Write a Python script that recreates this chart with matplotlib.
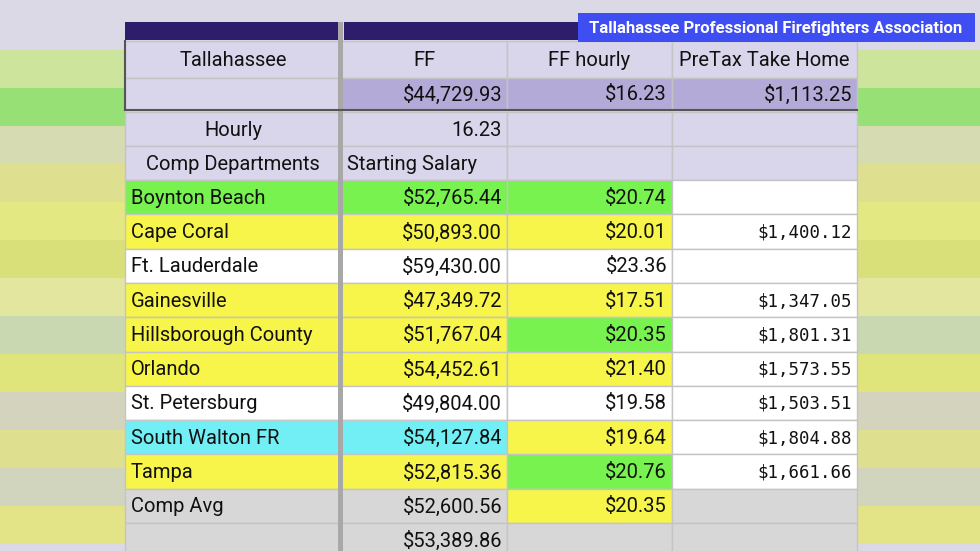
import matplotlib.pyplot as plt
from matplotlib.patches import Rectangle

# table content
departments = ['Boynton Beach', 'Cape Coral', 'Ft. Lauderdale', 'Gainesville', 'Hillsborough County',
               'Orlando', 'St. Petersburg', 'South Walton FR', 'Tampa', 'Comp Avg', '']
salaries = ['$52,765.44', '$50,893.00', '$59,430.00', '$47,349.72', '$51,767.04',
            '$54,452.61', '$49,804.00', '$54,127.84', '$52,815.36', '$52,600.56', '$53,389.86']
hourly = ['$20.74', '$20.01', '$23.36', '$17.51', '$20.35',
          '$21.40', '$19.58', '$19.64', '$20.76', '$20.35', '']
pretax = ['', '$1,400.12', '', '$1,347.05', '$1,801.31',
          '$1,573.55', '$1,503.51', '$1,804.88', '$1,661.66', '', '']

G, Y, C, W, GR = '#77f24f', '#f7f54a', '#72eff4', '#ffffff', '#d7d7d7'
LAV, MED, DARK = '#d9d5ea', '#b4aad8', '#2e1d6a'
row_colors = [
    [G, G, G, W], [Y, Y, Y, W], [W, W, W, W], [Y, Y, Y, W], [Y, Y, G, W],
    [Y, Y, Y, W], [W, W, W, W], [C, C, Y, W], [Y, Y, G, W], [GR, GR, Y, GR], [GR, GR, GR, GR],
]

fig = plt.figure(figsize=(9.8, 5.51), dpi=100)
ax = fig.add_axes([0, 0, 1, 1])
ax.set_xlim(0, 980)
ax.set_ylim(551, 0)
ax.axis('off')
fig.patch.set_facecolor('#dcd9e6')

# blurred background bands on both sides
bands = ['#c9e88a', '#86e25a', '#d5dca6', '#dfe27a', '#e6ec6a', '#d9e35e', '#e6ea8c',
         '#c6d8a4', '#e0e860', '#d2d2b4', '#dfe37a', '#cfd5b4', '#e4e870']
for i, c in enumerate(bands):
    y0 = 50 + i * 38
    ax.add_patch(Rectangle((0, y0), 125, 38, color=c, alpha=0.8, lw=0))
    ax.add_patch(Rectangle((857, y0), 123, 38, color=c, alpha=0.8, lw=0))

xs = [125, 341, 507, 672, 857]
font = 'Roboto'

def cell(col, y0, y1, color, text='', ha='left', mono=False, size=14.5):
    x0, x1 = xs[col], xs[col + 1]
    ax.add_patch(Rectangle((x0, y0), x1 - x0, y1 - y0, facecolor=color, edgecolor='#c4c4c4', lw=1))
    if text:
        if ha == 'left':
            tx = x0 + 6
        elif ha == 'right':
            tx = x1 - 5
        else:
            tx = (x0 + x1) / 2
        ax.text(tx, (y0 + y1) / 2 + 1, text, ha=ha, va='center', fontsize=size,
                family='DejaVu Sans Mono' if mono else font, color='#111111')

# header section
ax.add_patch(Rectangle((125, 22), 213, 18, color=DARK, lw=0))
ax.add_patch(Rectangle((344, 22), 513, 18, color=DARK, lw=0))
header = ['Tallahassee', 'FF', 'FF hourly', 'PreTax Take Home']
for j, h in enumerate(header):
    cell(j, 41, 78, LAV, h, ha='center')
cell(0, 78, 110, LAV)
for j, v in enumerate(['$44,729.93', '$16.23', '$1,113.25']):
    cell(j + 1, 78, 110, MED, v, ha='right')
ax.plot([125, 857], [110, 110], color='#555555', lw=1.5)
ax.plot([125, 125], [41, 110], color='#555555', lw=1.5)
cell(0, 112, 146, LAV, 'Hourly', ha='center')
cell(1, 112, 146, LAV, '16.23', ha='right')
cell(2, 112, 146, LAV)
cell(3, 112, 146, LAV)
cell(0, 146, 180, LAV, 'Comp Departments', ha='center')
cell(1, 146, 180, LAV, 'Starting Salary', ha='left')
cell(2, 146, 180, LAV)
cell(3, 146, 180, LAV)

# data rows
y = 180
for i in range(len(departments)):
    h = 34.3
    cs = row_colors[i]
    cell(0, y, y + h, cs[0], departments[i], ha='left')
    cell(1, y, y + h, cs[1], salaries[i], ha='right')
    cell(2, y, y + h, cs[2], hourly[i], ha='right')
    cell(3, y, y + h, cs[3], pretax[i], ha='right', mono=True, size=12.5)
    y += h

# thick separator between name column and values
ax.add_patch(Rectangle((338, 22), 5, 530, color='#a8a8a8', lw=0))

# banner
ax.add_patch(Rectangle((578, 13), 397, 29, color='#3f4ef2', lw=0))
ax.text(776, 28.5, 'Tallahassee Professional Firefighters Association', ha='center', va='center',
        fontsize=12, fontweight='bold', color='white', family='Roboto')

fig.savefig('out.png', dpi=100)
